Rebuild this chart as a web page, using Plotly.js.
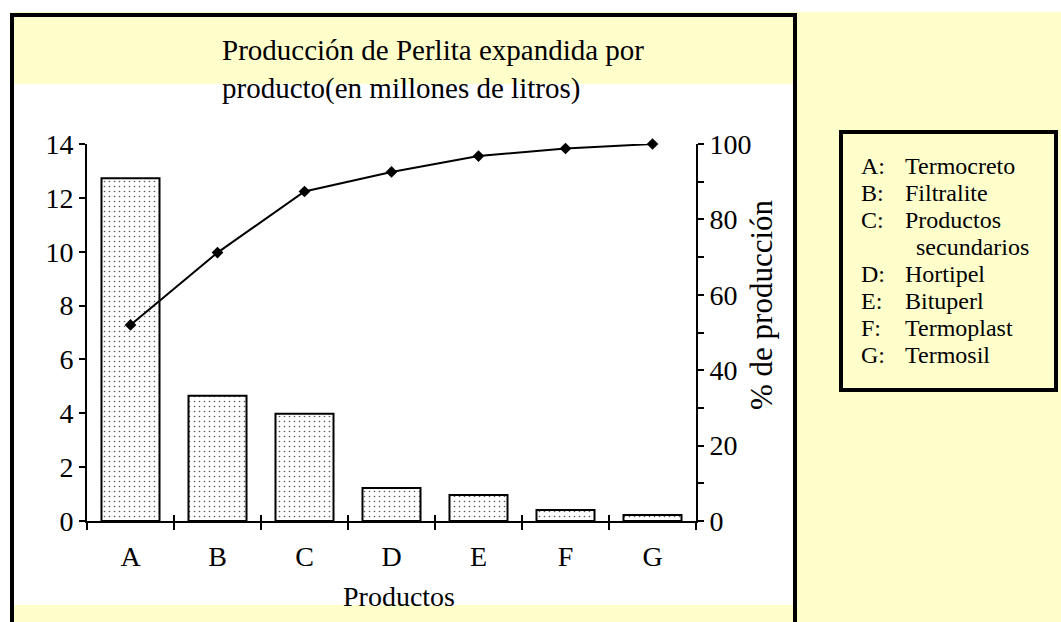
<!DOCTYPE html>
<html>
<head>
<meta charset="utf-8">
<script src="https://cdn.plot.ly/plotly-3.0.1.min.js"></script>
<style>
  html, body { margin: 0; padding: 0; background: #ffffff; }
  #chart { width: 1061px; height: 622px; }
</style>
</head>
<body>
<div id="chart"></div>
<script>
// ---- data ----
const categories = ['A', 'B', 'C', 'D', 'E', 'F', 'G'];
const production = [12.73, 4.65, 3.98, 1.23, 0.97, 0.41, 0.22];      // millones de litros
const cumulativePct = [52.0, 71.2, 87.4, 92.6, 96.8, 98.8, 100];     // % de producción acumulado
const productNames = ['Termocreto', 'Filtralite', 'Productos secundarios', 'Hortipel', 'Bituperl', 'Termoplast', 'Termosil'];
const titleText = 'Producción de Perlita expandida por<br>producto(en millones de litros)';
const xTitle = 'Productos';
const y2Title = '% de producción';

// ---- layout geometry (pixels) ----
const W = 1061, H = 622;
const M = { l: 87, r: 365, t: 144, b: 101 };
const PW = W - M.l - M.r, PH = H - M.t - M.b;
const px = x => (x - M.l) / PW;
const py = y => 1 - (y - M.t) / PH;

const FONT = "'Liberation Serif', 'Times New Roman', Times, serif";
const YELLOW = '#FFFFCC';
const FS = 28;
const LEG_FS = 24;

const bars = {
  type: 'bar',
  x: categories,
  y: production,
  xaxis: 'x', yaxis: 'y',
  marker: {
    color: 'white',
    line: { color: 'black', width: 2 },
    pattern: { shape: '.', fgcolor: '#555555', bgcolor: 'white', size: 5, solidity: 0.08 }
  },
  hoverinfo: 'x+y',
  showlegend: false
};

const line = {
  type: 'scatter',
  mode: 'lines+markers',
  x: categories,
  y: cumulativePct,
  xaxis: 'x2', yaxis: 'y2',
  cliponaxis: false,
  line: { color: 'black', width: 2 },
  marker: { symbol: 'diamond', size: 9, color: 'black' },
  showlegend: false
};

const axFont = { family: FONT, size: FS, color: 'black' };

// legend lines
const legendLines = [];
categories.forEach((c, i) => {
  const parts = productNames[i].split(' ');
  legendLines.push({ label: c + ':', name: parts[0] });
  for (let k = 1; k < parts.length; k++) legendLines.push({ label: '', name: parts[k], indent: true });
});

const annotations = [];
legendLines.forEach((ln, i) => {
  const yc = 166 + i * 27;
  if (ln.label) {
    annotations.push({ xref: 'paper', yref: 'paper', x: px(860), y: py(yc), xanchor: 'left', yanchor: 'middle',
      text: ln.label, showarrow: false, borderpad: 0, font: { family: FONT, size: LEG_FS, color: 'black' } });
  }
  annotations.push({ xref: 'paper', yref: 'paper', x: px(ln.indent ? 915 : 904), y: py(yc), xanchor: 'left', yanchor: 'middle',
    text: ln.name, showarrow: false, borderpad: 0, font: { family: FONT, size: LEG_FS, color: 'black' } });
});
annotations.push({ xref: 'paper', yref: 'paper', x: px(761), y: py(305), xanchor: 'center', yanchor: 'middle',
  text: y2Title, textangle: -90, showarrow: false, font: { family: FONT, size: 31, color: 'black' } });
annotations.push({ xref: 'paper', yref: 'paper', x: px(399), y: py(596), xanchor: 'center', yanchor: 'middle',
  text: xTitle, showarrow: false, font: axFont });

const shapes = [
  // white page margin at top and left
  { type: 'rect', xref: 'paper', yref: 'paper', x0: px(0), x1: px(W), y0: py(0), y1: py(12), fillcolor: 'white', line: { width: 0 }, layer: 'below' },
  { type: 'rect', xref: 'paper', yref: 'paper', x0: px(0), x1: px(11), y0: py(0), y1: py(H), fillcolor: 'white', line: { width: 0 }, layer: 'below' },
  // white plot region inside the frame
  { type: 'rect', xref: 'paper', yref: 'paper', x0: px(14), x1: px(793), y0: py(84), y1: py(605), fillcolor: 'white', line: { width: 0 }, layer: 'below' },
  // chart frame
  { type: 'rect', xref: 'paper', yref: 'paper', x0: px(12), x1: px(795), y0: py(15), y1: py(640), fillcolor: 'rgba(0,0,0,0)', line: { color: 'black', width: 4 }, layer: 'below' },
  // legend box
  { type: 'rect', xref: 'paper', yref: 'paper', x0: px(841), x1: px(1056), y0: py(132), y1: py(390), fillcolor: 'rgba(0,0,0,0)', line: { color: 'black', width: 4 }, layer: 'below' }
];

const commonX = { type: 'category', categoryarray: categories, categoryorder: 'array', range: [-0.5, 6.5],
  tickson: 'boundaries', ticklen: 7, tickwidth: 2, tickcolor: 'black', showgrid: false, zeroline: false, fixedrange: true };

const layout = {
  width: W, height: H,
  margin: M,
  paper_bgcolor: YELLOW,
  plot_bgcolor: 'rgba(0,0,0,0)',
  font: { family: FONT, color: 'black' },
  title: { text: titleText, xref: 'container', yref: 'container', x: 222 / W, xanchor: 'left',
    y: 1 - 60 / H, yanchor: 'top', font: { family: FONT, size: 29, color: 'black' } },
  bargap: 0.333,
  showlegend: false,
  xaxis: Object.assign({}, commonX, { ticks: 'outside', showline: true, linecolor: 'black', linewidth: 2,
    tickfont: axFont, anchor: 'y', ticklabelstandoff: 9 }),
  xaxis2: Object.assign({}, commonX, { overlaying: 'x', anchor: 'y', side: 'bottom', ticks: 'inside', ticklen: 6,
    showticklabels: false, showline: false }),
  yaxis: { range: [0, 14], dtick: 2, ticks: 'outside', ticklen: 6, tickwidth: 2, tickcolor: 'black',
    showline: true, linecolor: 'black', linewidth: 2, showgrid: false, zeroline: false, tickfont: axFont, fixedrange: true },
  yaxis3: { overlaying: 'y', anchor: 'x', side: 'left', range: [0, 14], dtick: 2, ticks: 'inside', ticklen: 6, tickwidth: 2,
    tickcolor: 'black', showticklabels: false, showline: false, showgrid: false, zeroline: false, fixedrange: true },
  yaxis2: { overlaying: 'y', anchor: 'x', side: 'right', range: [0, 100], dtick: 20, ticks: 'outside', ticklen: 6, tickwidth: 2,
    tickcolor: 'black', showline: true, linecolor: 'black', linewidth: 2, showgrid: false, zeroline: false, tickfont: axFont,
    minor: { dtick: 10, ticks: 'outside', ticklen: 6, tickwidth: 2, tickcolor: 'black', showgrid: false }, fixedrange: true },
  yaxis4: { overlaying: 'y', anchor: 'x', side: 'right', range: [0, 100], dtick: 10, ticks: 'inside', ticklen: 6, tickwidth: 2,
    tickcolor: 'black', showticklabels: false, showline: false, showgrid: false, zeroline: false, fixedrange: true },
  shapes: shapes,
  annotations: annotations
};

Plotly.newPlot('chart', [bars, line], layout, { displayModeBar: false, staticPlot: true });
</script>
</body>
</html>
